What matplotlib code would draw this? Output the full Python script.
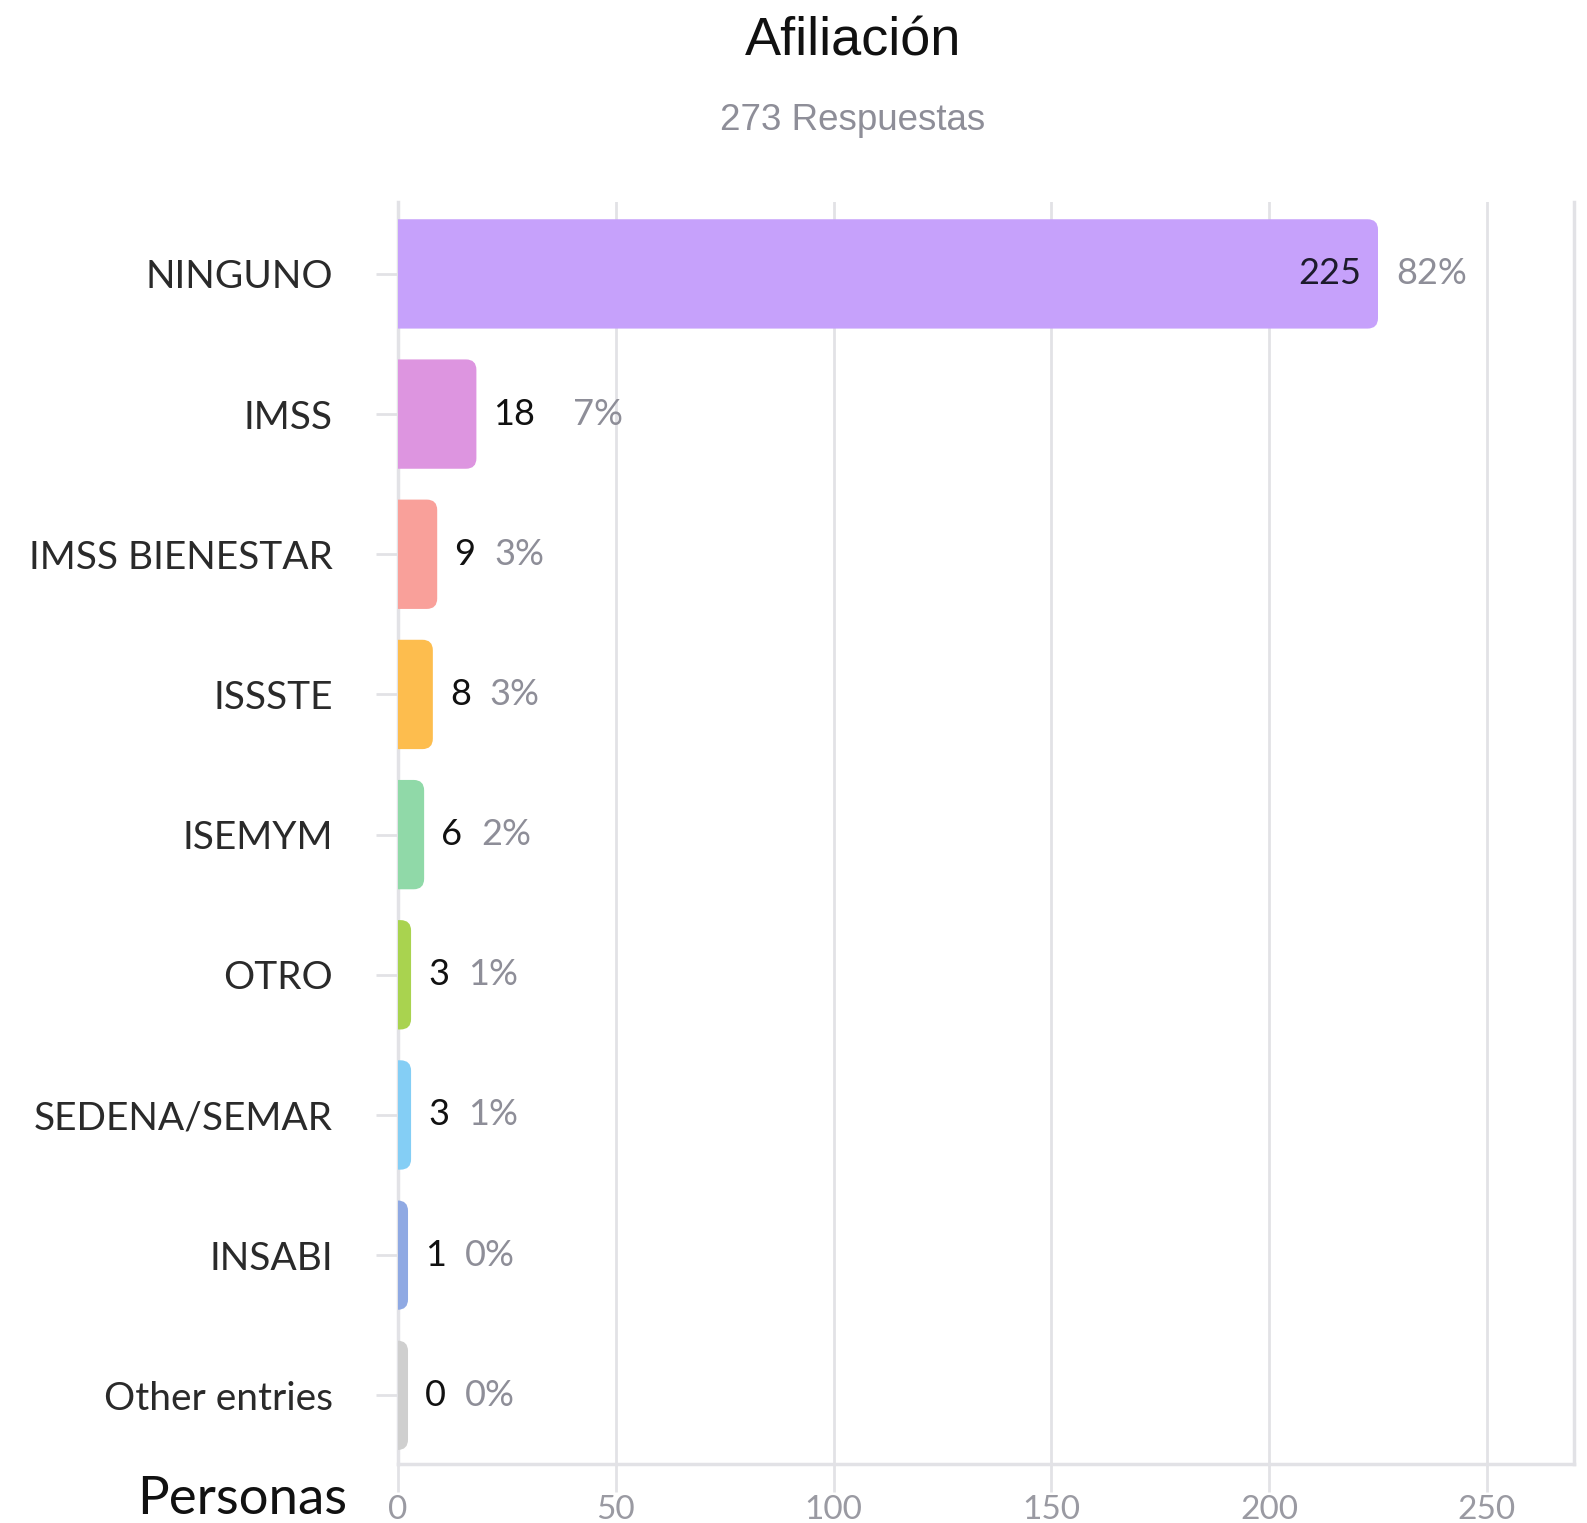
import matplotlib
matplotlib.use("Agg")
import matplotlib.pyplot as plt
from matplotlib.patches import FancyBboxPatch

# ================= data =================
CATEGORIES = ["NINGUNO", "IMSS", "IMSS BIENESTAR", "ISSSTE", "ISEMYM",
              "OTRO", "SEDENA/SEMAR", "INSABI", "Other entries"]
COUNTS = [225, 18, 9, 8, 6, 3, 3, 1, 0]
PERCENTS = ["82%", "7%", "3%", "3%", "2%", "1%", "1%", "0%", "0%"]
COLORS = ["#C6A1FB", "#DD95E0", "#F9A09A", "#FDBD4E", "#90D9A8",
          "#A9D34F", "#84CEF5", "#8FA9E3", "#CFCFCF"]
X_TICKS = [0, 50, 100, 150, 200, 250]

TITLE = "Afiliación"
SUBTITLE = "273 Respuestas"
XLABEL = "Personas"

# ================= style =================
W, H, DPI = 1587, 1523, 100
GRID_COLOR = "#e2e2e6"
TICK_COLOR = "#9a9aa2"
PCT_COLOR = "#8e8e98"
FONT = ["Lato", "DejaVu Sans"]
HEAD_FONT = ["Liberation Sans", "DejaVu Sans"]

XMAX = 270
BAR_H = 0.78
MIN_W = 2.3      # bars never drawn thinner than this (like the original)
ROUND = 2.4      # corner radius, x units
LBL_SIZE = 26

plt.rcParams['font.family'] = FONT

fig = plt.figure(figsize=(W / DPI, H / DPI), dpi=DPI)
ax_left, ax_right, ax_top, ax_bot = 398, 1574, 202, 1464
ax = fig.add_axes([ax_left / W, (H - ax_bot) / H,
                   (ax_right - ax_left) / W, (ax_bot - ax_top) / H])

ax.set_xlim(0, XMAX)
ax.set_ylim(8.49, -0.513)

# aspect correction so the rounded corners look round in pixels
px_per_x = (ax_right - ax_left) / XMAX
px_per_y = (ax_bot - ax_top) / (8.49 + 0.513)
aspect = px_per_x / px_per_y

for i, (v, c) in enumerate(zip(COUNTS, COLORS)):
    w = max(v, MIN_W)
    box = FancyBboxPatch((-ROUND * 1.5, i - BAR_H / 2), w + ROUND * 1.5, BAR_H,
                         boxstyle=f"round,pad=0,rounding_size={ROUND}",
                         mutation_aspect=aspect, fc=c, ec="none", zorder=3,
                         clip_on=True)
    ax.add_patch(box)

    if v > max(COUNTS) / 2:
        ax.annotate(str(v), (w, i), xytext=(-17, 0), textcoords="offset pixels",
                    ha="right", va="center", fontsize=LBL_SIZE, color="#1d1b2c", zorder=4)
        ax.annotate(PERCENTS[i], (w, i), xytext=(18, 0), textcoords="offset pixels",
                    ha="left", va="center", fontsize=LBL_SIZE, color=PCT_COLOR, zorder=4)
    else:
        ax.annotate(str(v), (w, i), xytext=(17, 0), textcoords="offset pixels",
                    ha="left", va="center", fontsize=LBL_SIZE, color="#111111", zorder=4)
        ax.annotate(PERCENTS[i], (w, i), xytext=(17 + 40 * len(str(v)), 0),
                    textcoords="offset pixels",
                    ha="left", va="center", fontsize=LBL_SIZE, color=PCT_COLOR, zorder=4)

# axes
ax.set_yticks(range(len(CATEGORIES)))
ax.set_yticklabels(CATEGORIES, fontsize=28, color="#2a2a2a")
ax.set_xticks(X_TICKS)
ax.set_xticklabels([str(t) for t in X_TICKS], fontsize=24, color=TICK_COLOR)
ax.tick_params(axis="y", length=16, width=2, color=GRID_COLOR, pad=31)
ax.tick_params(axis="x", length=20, width=2, color=GRID_COLOR, pad=2)

ax.grid(axis="x", color=GRID_COLOR, linewidth=2, zorder=0)
ax.set_axisbelow(True)
for s in ["left", "bottom", "right"]:
    ax.spines[s].set_color(GRID_COLOR)
    ax.spines[s].set_linewidth(2.5)
ax.spines["top"].set_visible(False)

# titles
fig.text(853 / W, 1 - 42 / H, TITLE, ha="center", va="center",
         fontsize=39, color="#111111", family=HEAD_FONT)
fig.text(853 / W, 1 - 120 / H, SUBTITLE, ha="center", va="center",
         fontsize=26.5, color=PCT_COLOR, family=HEAD_FONT)
fig.text(347 / W, 1 - 1500 / H, XLABEL, ha="right", va="center",
         fontsize=38, color="#111111")

fig.savefig("out.png", dpi=DPI)
